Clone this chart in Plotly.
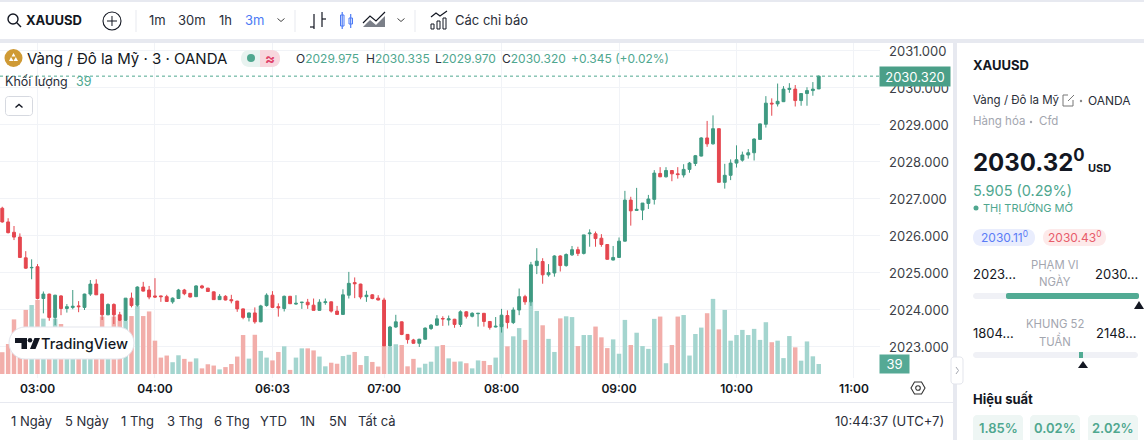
import plotly.graph_objects as go

W = 1144
H = 440

# Candles (3m bars, left to right)
opens = [2026.75, 2026.38, 2026.10, 2025.97, 2025.41, 2025.14, 2025.17, 2024.31, 2024.43, 2023.80,
         2024.38, 2024.04, 2024.07, 2024.11, 2024.07, 2024.43, 2024.70, 2024.43, 2023.87, 2024.15,
         2023.87, 2023.72, 2024.32, 2024.13, 2024.62, 2024.54, 2024.38, 2024.38, 2024.36, 2024.22,
         2024.31, 2024.54, 2024.45, 2024.36, 2024.65, 2024.59, 2024.49, 2024.28, 2024.37, 2024.28,
         2024.24, 2024.03, 2023.80, 2023.92, 2023.68, 2024.12, 2024.40, 2024.09, 2024.04, 2024.37,
         2024.16, 2024.20, 2024.21, 2024.13, 2023.99, 2024.20, 2024.22, 2023.97, 2023.88, 2024.40,
         2024.74, 2024.70, 2024.36, 2024.41, 2024.32, 2024.27, 2023.03, 2023.54, 2023.68, 2023.34,
         2023.19, 2023.10, 2023.21, 2023.50, 2023.59, 2023.77, 2023.73, 2023.75, 2023.61, 2023.95,
         2023.83, 2023.90, 2023.91, 2023.69, 2023.54, 2023.55, 2023.85, 2023.66, 2024.00, 2024.36,
         2024.22, 2025.20, 2025.31, 2024.95, 2025.00, 2025.46, 2025.20, 2025.49, 2025.63, 2025.53,
         2026.06, 2026.06, 2025.94, 2025.77, 2025.35, 2025.42, 2025.86, 2026.97, 2026.69, 2026.70,
         2026.88, 2026.99, 2027.69, 2027.60, 2027.77, 2027.68, 2027.65, 2027.80, 2027.96, 2028.16,
         2028.65, 2028.49, 2028.90, 2027.45, 2027.64, 2027.97, 2028.05, 2028.19, 2028.25, 2028.61,
         2029.02, 2029.59, 2029.57, 2029.63, 2029.96, 2029.97, 2029.66, 2029.85, 2029.93, 2029.975]
highs = [2026.79, 2026.48, 2026.27, 2026.07, 2025.59, 2025.37, 2025.24, 2024.50, 2024.44, 2024.41,
         2024.40, 2024.16, 2024.54, 2024.24, 2024.44, 2024.81, 2024.83, 2024.44, 2024.18, 2024.18,
         2023.95, 2024.32, 2024.47, 2024.64, 2024.76, 2024.65, 2024.86, 2024.39, 2024.41, 2024.34,
         2024.57, 2024.57, 2024.45, 2024.67, 2024.68, 2024.60, 2024.50, 2024.43, 2024.40, 2024.41,
         2024.25, 2024.04, 2023.93, 2024.07, 2024.14, 2024.45, 2024.51, 2024.18, 2024.39, 2024.38,
         2024.40, 2024.21, 2024.30, 2024.31, 2024.29, 2024.31, 2024.23, 2024.11, 2024.56, 2025.03,
         2024.88, 2024.71, 2024.52, 2024.43, 2024.40, 2024.33, 2023.57, 2023.87, 2023.69, 2023.35,
         2023.22, 2023.22, 2023.53, 2023.62, 2023.86, 2023.83, 2023.85, 2023.76, 2023.99, 2023.97,
         2023.94, 2023.91, 2023.92, 2023.70, 2023.81, 2024.03, 2023.99, 2024.07, 2024.58, 2024.41,
         2025.30, 2025.67, 2025.40, 2025.24, 2025.48, 2025.48, 2025.53, 2025.73, 2025.71, 2026.03,
         2026.18, 2026.12, 2026.05, 2025.78, 2025.73, 2025.96, 2027.22, 2027.06, 2027.30, 2026.89,
         2027.11, 2027.78, 2027.86, 2027.86, 2027.78, 2027.86, 2027.94, 2028.00, 2028.19, 2028.67,
         2029.11, 2029.26, 2028.91, 2027.95, 2028.07, 2028.45, 2028.28, 2028.35, 2028.64, 2029.04,
         2029.78, 2029.72, 2030.12, 2030.05, 2030.13, 2030.08, 2029.85, 2030.02, 2030.16, 2030.335]
lows = [2026.36, 2026.07, 2025.89, 2025.41, 2025.11, 2024.83, 2024.29, 2023.91, 2023.71, 2023.59,
        2023.86, 2023.93, 2024.02, 2023.94, 2024.00, 2024.38, 2024.41, 2023.73, 2023.86, 2023.62,
        2023.70, 2023.71, 2024.07, 2024.09, 2024.50, 2024.29, 2024.33, 2024.22, 2024.22, 2024.17,
        2024.30, 2024.40, 2024.34, 2024.35, 2024.57, 2024.49, 2024.27, 2024.27, 2024.26, 2024.18,
        2023.95, 2023.75, 2023.69, 2023.63, 2023.67, 2024.09, 2024.05, 2023.82, 2023.96, 2024.16,
        2024.14, 2024.03, 2024.03, 2023.99, 2023.98, 2024.14, 2023.93, 2023.87, 2023.87, 2024.31,
        2024.32, 2024.29, 2024.22, 2024.29, 2024.26, 2023.03, 2023.02, 2023.52, 2023.32, 2023.09,
        2023.09, 2023.00, 2023.20, 2023.46, 2023.58, 2023.57, 2023.58, 2023.52, 2023.54, 2023.77,
        2023.80, 2023.55, 2023.55, 2023.47, 2023.53, 2023.39, 2023.50, 2023.62, 2023.86, 2024.14,
        2024.11, 2024.97, 2024.71, 2024.90, 2024.90, 2025.04, 2025.17, 2025.46, 2025.46, 2025.50,
        2025.71, 2025.71, 2025.71, 2025.36, 2025.34, 2025.41, 2025.85, 2026.28, 2026.68, 2026.43,
        2026.73, 2026.85, 2027.59, 2027.58, 2027.48, 2027.55, 2027.58, 2027.71, 2027.89, 2028.15,
        2028.41, 2028.47, 2027.45, 2027.28, 2027.51, 2027.85, 2028.01, 2028.09, 2028.04, 2028.60,
        2028.93, 2029.25, 2029.50, 2029.62, 2029.87, 2029.50, 2029.52, 2029.52, 2029.79, 2029.97]
closes = [2026.38, 2026.09, 2025.97, 2025.42, 2025.13, 2025.15, 2024.31, 2024.43, 2023.80, 2024.40,
          2024.04, 2024.09, 2024.10, 2024.09, 2024.43, 2024.70, 2024.41, 2023.87, 2024.15, 2023.87,
          2023.72, 2024.32, 2024.12, 2024.62, 2024.51, 2024.35, 2024.35, 2024.36, 2024.23, 2024.32,
          2024.54, 2024.44, 2024.35, 2024.65, 2024.60, 2024.50, 2024.28, 2024.37, 2024.27, 2024.25,
          2024.03, 2023.80, 2023.92, 2023.68, 2024.11, 2024.40, 2024.07, 2024.06, 2024.37, 2024.17,
          2024.18, 2024.21, 2024.14, 2023.99, 2024.21, 2024.22, 2023.97, 2023.88, 2024.41, 2024.72,
          2024.71, 2024.35, 2024.40, 2024.31, 2024.27, 2023.03, 2023.54, 2023.68, 2023.34, 2023.20,
          2023.10, 2023.21, 2023.51, 2023.59, 2023.76, 2023.76, 2023.76, 2023.61, 2023.95, 2023.83,
          2023.91, 2023.91, 2023.69, 2023.53, 2023.56, 2023.86, 2023.66, 2024.00, 2024.36, 2024.22,
          2025.22, 2025.32, 2024.95, 2025.01, 2025.46, 2025.20, 2025.50, 2025.63, 2025.53, 2026.03,
          2026.08, 2025.93, 2025.77, 2025.37, 2025.42, 2025.86, 2026.97, 2026.68, 2026.72, 2026.89,
          2027.00, 2027.70, 2027.60, 2027.77, 2027.68, 2027.66, 2027.80, 2027.97, 2028.17, 2028.65,
          2028.49, 2028.90, 2027.45, 2027.64, 2027.97, 2028.06, 2028.19, 2028.25, 2028.62, 2029.03,
          2029.59, 2029.57, 2029.64, 2029.97, 2029.99, 2029.66, 2029.85, 2029.93, 2029.97, 2030.32]
volumes = [85, 117, 213, 146, 250, 269, 289, 216, 178, 216,
           195, 120, 107, 133, 120, 107, 133, 224, 146, 224,
           208, 208, 226, 265, 226, 244, 130, 64, 72, 46,
           73, 59, 48, 61, 22, 38, 33, 18, 27, 39,
           68, 152, 60, 153, 90, 64, 53, 86, 108, 16,
           64, 100, 100, 92, 68, 30, 44, 40, 70, 75,
           86, 35, 70, 47, 29, 109, 107, 116, 113, 30,
           59, 25, 40, 48, 108, 113, 61, 48, 49, 42,
           22, 53, 51, 35, 64, 195, 108, 147, 179, 133,
           282, 246, 190, 137, 86, 217, 225, 222, 109, 152,
           152, 185, 143, 101, 135, 79, 211, 113, 161, 109,
           98, 215, 224, 42, 113, 224, 230, 72, 156, 181,
           237, 293, 174, 250, 130, 152, 172, 152, 176, 133,
           202, 124, 130, 62, 148, 104, 52, 127, 69, 39]

time_ticks = [6, 26, 46, 65, 85, 105, 125, 145]
time_labels = ["03:00", "04:00", "06:03", "07:00", "08:00", "09:00", "10:00", "11:00"]
price_ticks = [2023, 2024, 2025, 2026, 2027, 2028, 2029, 2030, 2031]

ranges = ["1 Ngày", "5 Ngày", "1 Thg", "3 Thg", "6 Thg", "YTD", "1N", "5N", "Tất cả"]
range_x = [11, 65, 121, 167, 214, 260, 300, 329, 358]
ohlc_labels = ["O", "H", "L", "C"]
ohlc_values = ["2029.975", "2030.335", "2029.970", "2030.320"]
ohlc_x = [296, 366, 435, 502]
perf_labels = ["1.85%", "0.02%", "2.02%"]
perf_x = [973, 1030, 1088]

GREEN = "#3f9a82"
RED = "#e5474f"
TEAL = "#4fa78f"
VOL_UP = "#a4d5cf"
VOL_DOWN = "#f2aeaa"
INK = "#131722"
GREY = "#a3a6af"
BAND = "#e7e9f0"
GRID = "#f1f3f7"
FONT = "Inter"

bars = list(range(len(closes)))
vol_colors = [VOL_UP if c >= o else VOL_DOWN for o, c in zip(opens, closes)]

fig = go.Figure()

# Volume sits on the base axis so the candles draw over it
fig.add_trace(go.Bar(x=bars, y=volumes, marker_color=vol_colors, marker_line_width=0,
                     width=0.76, yaxis="y", hoverinfo="skip", showlegend=False))
fig.add_trace(go.Candlestick(x=bars, open=opens, high=highs, low=lows, close=closes, yaxis="y2",
                             increasing=dict(line=dict(color=GREEN, width=1), fillcolor=GREEN),
                             decreasing=dict(line=dict(color=RED, width=1), fillcolor=RED),
                             whiskerwidth=0, hoverinfo="skip", showlegend=False))

shapes = []
notes = []


def px_x(x):
    return x / W


def px_y(y):
    return 1 - y / H


def rect(x0, y0, x1, y1, fill, line=None):
    shapes.append(dict(type="rect", xref="paper", yref="paper", layer="above",
                       x0=px_x(x0), x1=px_x(x1), y0=px_y(y0), y1=px_y(y1), fillcolor=fill,
                       line=dict(color=line or fill, width=1 if line else 0)))


def circle(cx, cy, r, fill="rgba(0,0,0,0)", line=None, width=1.3):
    shapes.append(dict(type="circle", xref="paper", yref="paper", layer="above",
                       x0=px_x(cx - r), x1=px_x(cx + r), y0=px_y(cy - r), y1=px_y(cy + r), fillcolor=fill,
                       line=dict(color=line or fill, width=width if line else 0)))


def path(points, line=None, fill="rgba(0,0,0,0)", width=1.2, closed=False):
    # points are pixel pairs, turned into a paper-space svg path
    d = "M" + " L".join(f"{px_x(x):.5f},{px_y(y):.5f}" for x, y in points)
    if closed:
        d += " Z"
    shapes.append(dict(type="path", xref="paper", yref="paper", layer="above", path=d, fillcolor=fill,
                       line=dict(color=line or "rgba(0,0,0,0)", width=width if line else 0)))


def pill(x0, y0, x1, y1, r, fill, line=None):
    k = 0.45 * r
    d = (f"M{px_x(x0 + r):.5f},{px_y(y0):.5f} L{px_x(x1 - r):.5f},{px_y(y0):.5f} "
         f"C{px_x(x1 - k):.5f},{px_y(y0):.5f} {px_x(x1):.5f},{px_y(y0 + k):.5f} {px_x(x1):.5f},{px_y(y0 + r):.5f} "
         f"L{px_x(x1):.5f},{px_y(y1 - r):.5f} "
         f"C{px_x(x1):.5f},{px_y(y1 - k):.5f} {px_x(x1 - k):.5f},{px_y(y1):.5f} {px_x(x1 - r):.5f},{px_y(y1):.5f} "
         f"L{px_x(x0 + r):.5f},{px_y(y1):.5f} "
         f"C{px_x(x0 + k):.5f},{px_y(y1):.5f} {px_x(x0):.5f},{px_y(y1 - k):.5f} {px_x(x0):.5f},{px_y(y1 - r):.5f} "
         f"L{px_x(x0):.5f},{px_y(y0 + r):.5f} "
         f"C{px_x(x0):.5f},{px_y(y0 + k):.5f} {px_x(x0 + k):.5f},{px_y(y0):.5f} {px_x(x0 + r):.5f},{px_y(y0):.5f} Z")
    shapes.append(dict(type="path", xref="paper", yref="paper", layer="above", path=d, fillcolor=fill,
                       line=dict(color=line or fill, width=1 if line else 0)))


def text(x, y, s, size=13, color=INK, anchor="left", weight=400):
    # annotations keep 1px of padding around the text
    if anchor == "left":
        x -= 1
    elif anchor == "right":
        x += 1
    notes.append(dict(xref="paper", yref="paper", x=px_x(x), y=px_y(y), text=s, showarrow=False,
                      xanchor=anchor, yanchor="middle", borderpad=0,
                      font=dict(family=FONT, size=size, color=color, weight=weight)))


# Frame bands around the panes
rect(0, 0, W, 2, BAND)
rect(0, 39, W, 43, BAND)
rect(953, 43, 957, H, BAND)
rect(0, 402, 953, 403, BAND)

# Toolbar
circle(13, 19, 5, line=INK, width=1.4)
path([(16.8, 22.8), (21, 27)], line=INK, width=1.4)
text(26, 20, "XAUUSD", size=13, weight=700)
circle(112, 21, 9, line=INK, width=1.1)
path([(107, 21), (117, 21)], line=INK, width=1)
path([(112, 16), (112, 26)], line=INK, width=1)
rect(135.5, 10, 136.5, 32, BAND)
text(157, 20, "1m", size=13, anchor="center", color="#2a2e39")
text(192, 20, "30m", size=13, anchor="center", color="#2a2e39")
text(225, 20, "1h", size=13, anchor="center", color="#2a2e39")
text(254, 20, "3m", size=13, anchor="center", color="#4c7bf5")
path([(277.5, 18.5), (281, 21.5), (284.5, 18.5)], line="#444", width=1)
rect(294.5, 10, 295.5, 32, BAND)
# bar type icons
path([(314, 14), (314, 29)], line=INK)
path([(310, 27), (314, 27)], line=INK)
path([(322, 12), (322, 27)], line=INK)
path([(322, 19), (326, 19)], line=INK)
rect(340.5, 15, 344, 26, "rgba(0,0,0,0)", "#4c7bf5")
path([(342.2, 12), (342.2, 29)], line="#4c7bf5")
rect(349, 18, 352.5, 24, "rgba(0,0,0,0)", "#4c7bf5")
path([(350.7, 14), (350.7, 28)], line="#4c7bf5")
path([(363, 23), (370, 16), (376, 21), (385, 12)], line=INK)
path([(363, 27), (370, 20), (376, 25), (385, 16), (385, 27)], fill="#7b7f88", closed=True)
path([(397.5, 18.5), (401, 21.5), (404.5, 18.5)], line="#444", width=1)
rect(414.5, 10, 415.5, 32, BAND)
# indicators icon
rect(431, 24, 434, 29, "#ffffff", INK)
rect(437, 21, 440, 29, "#ffffff", INK)
rect(443, 18, 446, 29, "#ffffff", INK)
path([(431, 17), (436, 13), (440, 16), (447, 11)], line=INK)
text(455, 20, "Các chỉ báo", size=13, color="#2a2e39")

# Symbol legend
circle(13.5, 58, 9, fill="#cf9a35")
path([(9, 61), (11, 57), (13.5, 61)], fill="#ffffff", closed=True)
path([(13.5, 61), (15.8, 57), (18, 61)], fill="#ffffff", closed=True)
path([(11.5, 56.5), (13.5, 53), (15.5, 56.5)], fill="#ffffff", closed=True)
text(27, 58, "Vàng / Đô la Mỹ · 3 · OANDA", size=15)
pill(241, 50, 280, 67, 8, "#e8f3f0")
pill(260, 50, 280, 67, 8, "#f8d7de")
rect(260, 50, 268, 67, "#f8d7de")
circle(251, 58, 4, fill=TEAL)
text(270, 58, "≈", size=15, color="#e0436a", anchor="center", weight=700)
for lab, val, x in zip(ohlc_labels, ohlc_values, ohlc_x):
    text(x, 58, f"{lab}<span style='color:{TEAL}'>{val}</span>", size=12, color="#2a2e39")
text(571, 58, "+0.345 (+0.02%)", size=12, color=TEAL)
text(5, 81, "Khối lượng", size=12.5, color="#2a2e39")
text(76, 81, str(volumes[-1]), size=12.5, color=TEAL)
pill(5.5, 96.5, 32.5, 115.5, 3, "#ffffff", "#d6d9e0")
path([(15.5, 107.5), (19, 104.5), (22.5, 107.5)], line=INK, width=1.4)

# TradingView badge over the volume bars
pill(9, 327, 134, 359, 16, "#ffffff", "#e3e5ec")
path([(15, 338), (27, 338), (27, 349), (21.5, 349), (21.5, 343), (15, 343)], fill=INK, closed=True)
circle(30, 340.3, 2.3, fill=INK)
path([(30, 349), (34.5, 338), (40, 338), (35.5, 349)], fill=INK, closed=True)
text(41, 344, "TradingView", size=14.5, weight=500)

# Current-price line and axis flags, tied to the last bar
shapes.append(dict(type="line", xref="x domain", yref="y2", x0=0, x1=1, y0=closes[-1], y1=closes[-1],
                   line=dict(color=TEAL, width=1, dash="dot"), layer="above"))
notes.append(dict(xref="paper", yref="y2", x=px_x(915), y=closes[-1], text=f"{closes[-1]:.3f}", showarrow=False,
                  width=68, height=17, bgcolor="#4a9f88", xanchor="center", yanchor="middle",
                  font=dict(family=FONT, size=13, color="#ffffff")))
notes.append(dict(xref="paper", yref="y", x=px_x(894.5), y=volumes[-1], text=str(volumes[-1]), showarrow=False,
                  width=27, height=16, bgcolor="#55a995", xanchor="center", yanchor="middle",
                  font=dict(family=FONT, size=13, color="#ffffff")))

# Settings hexagon on the time scale
path([(911, 388), (914.5, 382), (921.5, 382), (925, 388), (921.5, 394), (914.5, 394)], line="#333", width=1.1, closed=True)
circle(918, 388, 2.3, line="#333", width=1.1)

# Footer
for lab, x in zip(ranges, range_x):
    text(x, 421, lab, size=13, color="#2a2e39")
text(944, 421, "10:44:37 (UTC+7)", size=13, color="#2a2e39", anchor="right")

# Symbol panel
pill(951, 357, 963, 384, 3, "#ffffff", "#e3e5ec")
path([(956, 367), (958.5, 370.5), (956, 374)], line=GREY, width=1)
text(973, 65, "XAUUSD", size=13, weight=700)
text(973, 100, "Vàng / Đô la Mỹ", size=11.5, color="#2a2e39")
path([(1068, 95), (1063, 95), (1063, 106), (1073, 106), (1073, 100)], line="#777", width=1)
path([(1068, 101), (1074, 95)], line="#777", width=1)
circle(1081, 101, 1.2, fill="#888")
text(1088, 100, "OANDA", size=12, color="#2a2e39")
text(973, 121, "Hàng hóa", size=11.5, color=GREY)
circle(1031, 122, 1.2, fill=GREY)
text(1039, 121, "Cfd", size=11.5, color=GREY)
text(973, 161, "2030.32<sup>0</sup>", size=24, weight=700)
text(1088, 168, "USD", size=11, weight=700)
text(973, 190, "5.905 (0.29%)", size=14.5, color=TEAL)
circle(976, 208, 2.5, fill=TEAL)
text(983, 208, "THỊ TRƯỜNG MỞ", size=11, color=TEAL)
pill(973, 229, 1035, 246, 8, "#e9edfd")
text(1004, 237, "2030.11<sup>0</sup>", size=12, color="#5b7cf6", anchor="center")
pill(1043, 229, 1106, 246, 8, "#fdeaea")
text(1074.5, 237, "2030.43<sup>0</sup>", size=12, color="#e85c6a", anchor="center")

text(973, 274, "2023…", size=13)
text(1055, 265, "PHẠM VI", size=11.3, color=GREY, anchor="center")
text(1055, 281, "NGÀY", size=11.3, color=GREY, anchor="center")
text(1138, 274, "2030…", size=13, anchor="right")
pill(973, 293, 1139, 299, 3, "#f0f1f6")
pill(1006, 293, 1139, 299, 2, "#52ab94")
path([(1134, 309), (1139, 301), (1144, 309)], fill=INK, closed=True)

text(973, 333, "1804…", size=13)
text(1055, 324, "KHUNG 52", size=11.3, color=GREY, anchor="center")
text(1055, 340, "TUẦN", size=11.3, color=GREY, anchor="center")
text(1137, 333, "2148…", size=13, anchor="right")
pill(973, 352, 1138, 358, 3, "#f0f1f6")
rect(1079, 352, 1083, 358, "#52ab94")
path([(1078, 368), (1083, 361), (1088, 368)], fill=INK, closed=True)

text(973, 399, "Hiệu suất", size=13, weight=700)
for lab, x in zip(perf_labels, perf_x):
    pill(x, 415, x + 50, 446, 4, "#eef6f4")
    text(x + 25, 428, lab, size=13, color=TEAL, anchor="center", weight=600)

fig.update_layout(
    width=W,
    height=H,
    margin=dict(l=0, r=0, t=0, b=0),
    paper_bgcolor="#ffffff",
    plot_bgcolor="#ffffff",
    boxgap=0.3,
    showlegend=False,
    shapes=shapes,
    annotations=notes,
    font=dict(family=FONT, color=INK),
    xaxis=dict(domain=[0, 880 / W], range=[-0.385, 149.43], rangeslider=dict(visible=False),
               tickmode="array", tickvals=time_ticks, ticktext=time_labels, showgrid=True, gridcolor=GRID,
               gridwidth=1, zeroline=False, showline=False, ticks="", ticklabelstandoff=2,
               tickfont=dict(family=FONT, size=12, color=INK, weight=600), tickangle=0),
    yaxis=dict(domain=[1 - 378 / H, 1 - 43 / H], range=[-15.6, 1290.9], visible=False, showgrid=False,
               zeroline=False, fixedrange=True),
    yaxis2=dict(domain=[1 - 378 / H, 1 - 43 / H], range=[2022.162, 2031.216], overlaying="y", side="right",
                anchor="x", tickmode="array", tickvals=price_ticks, tickformat=".3f", showgrid=True,
                gridcolor=GRID, gridwidth=1, zeroline=False, showline=False, ticks="", ticklabelstandoff=8,
                tickfont=dict(family=FONT, size=13, color="#3c3f47")),
)

# the browser's default body margin would push the 1144x440 figure off the window
fig.write_html("out.html", config={"displayModeBar": False},
               post_script="document.body.style.margin='0';")
